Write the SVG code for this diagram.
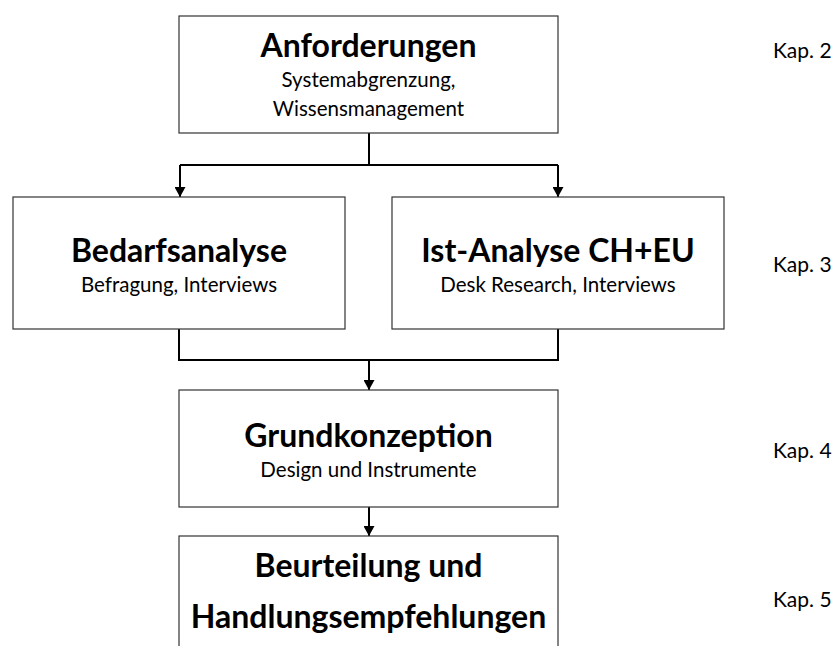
<svg xmlns="http://www.w3.org/2000/svg" width="834" height="646" viewBox="0 0 834 646">
  <style>
    .box { fill: #ffffff; stroke: #333333; stroke-width: 1.2; }
    .wire { fill: none; stroke: #000000; stroke-width: 2; }
    .title { font-family: Lato, "Liberation Sans", sans-serif; font-weight: bold; font-size: 32px; fill: #000; text-anchor: middle; }
    .sub { font-family: Lato, "Liberation Sans", sans-serif; font-size: 20.5px; fill: #000; text-anchor: middle; }
    .kap { font-family: Lato, "Liberation Sans", sans-serif; font-size: 21px; fill: #000; }
  </style>
  <defs>
    <marker id="arrow" viewBox="0 0 10 11" refX="10" refY="5.5" markerWidth="11" markerHeight="11" markerUnits="userSpaceOnUse" orient="auto">
      <path d="M0,0 L10,5.5 L0,11 Z" fill="#000"/>
    </marker>
  </defs>
  <rect width="834" height="646" fill="#ffffff"/>

  <g id="connectors">
    <path class="wire" d="M369,133 V165"/>
    <path class="wire" d="M180,165 H558"/>
    <path class="wire" d="M180,165 V197" marker-end="url(#arrow)"/>
    <path class="wire" d="M558,165 V197" marker-end="url(#arrow)"/>
    <path class="wire" d="M179,329 V360 H558 V329"/>
    <path class="wire" d="M369,360 V390" marker-end="url(#arrow)"/>
    <path class="wire" d="M369,507 V536" marker-end="url(#arrow)"/>
  </g>

  <g id="anforderungen">
    <rect class="box" x="179" y="16" width="379" height="117"/>
    <text class="title" x="368.5" y="57">Anforderungen</text>
    <text class="sub" x="368.5" y="87">Systemabgrenzung,</text>
    <text class="sub" x="368.5" y="116">Wissensmanagement</text>
  </g>

  <g id="bedarfsanalyse">
    <rect class="box" x="13" y="197" width="332" height="132"/>
    <text class="title" x="179" y="262">Bedarfsanalyse</text>
    <text class="sub" x="179" y="292">Befragung, Interviews</text>
  </g>

  <g id="ist-analyse">
    <rect class="box" x="392" y="197" width="332" height="132"/>
    <text class="title" x="558" y="262">Ist-Analyse CH+EU</text>
    <text class="sub" x="558" y="292">Desk Research, Interviews</text>
  </g>

  <g id="grundkonzeption">
    <rect class="box" x="179" y="390" width="379" height="117"/>
    <text class="title" x="368.5" y="447">Grundkonzeption</text>
    <text class="sub" x="368.5" y="477">Design und Instrumente</text>
  </g>

  <g id="beurteilung">
    <rect class="box" x="179" y="536" width="379" height="120"/>
    <text class="title" x="368.5" y="577">Beurteilung und</text>
    <text class="title" x="368.5" y="628">Handlungsempfehlungen</text>
  </g>

  <g id="kapitel">
    <text class="kap" x="773" y="58">Kap. 2</text>
    <text class="kap" x="773" y="272">Kap. 3</text>
    <text class="kap" x="773" y="458">Kap. 4</text>
    <text class="kap" x="773" y="607">Kap. 5</text>
  </g>
</svg>
